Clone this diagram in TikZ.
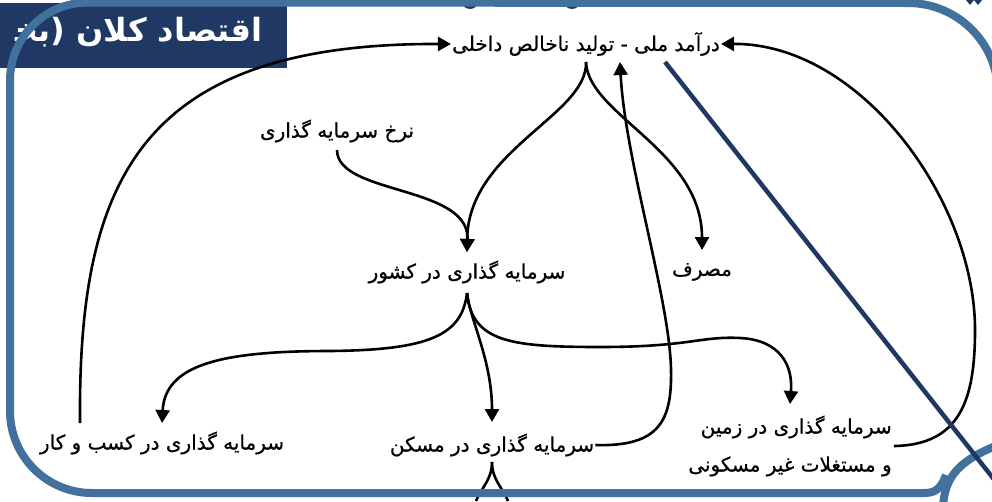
\documentclass[tikz,border=0pt]{standalone}
\usepackage{fontspec}
\TeXXeTstate=1
\newfontfamily\arabicfont[Script=Arabic]{DejaVu Sans}
\newfontfamily\arabicbold[Script=Arabic]{DejaVu Sans Bold}
\usetikzlibrary{arrows.meta}
\definecolor{frameblue}{RGB}{65,113,156}
\definecolor{navy}{RGB}{31,56,100}

\begin{document}
\begin{tikzpicture}[x=1pt,y=-1pt,
  lbl/.style={inner sep=0pt, align=right,
    font=\arabicfont\fontsize{20}{38}\selectfont\addfontfeature{FakeBold=0.7}},
  flow/.style={line width=2.6pt, -{Triangle[length=13pt,width=14pt]}},
  link/.style={line width=2.6pt},
  framestroke/.style={draw=frameblue, line width=8pt}]
\useasboundingbox (0,0) rectangle (992,501);

% title banner, cut at the left edge
\fill[navy] (0,3) rectangle (287,68);
\begin{scope}
  \clip (0,3) rectangle (287,68);
  \node[anchor=base east, inner sep=0pt, text=white,
        font=\arabicbold\fontsize{32}{36}\selectfont] (title) at (263,41)
        {\beginR اقتصاد کلان (بخ^^^^200d\endR};
\end{scope}

% labels
\node[lbl] (top)    at (586,44)  {\beginR درآمد ملی - تولید ناخالص داخلی\endR};
\node[lbl] (nerkh)  at (337,131) {\beginR نرخ سرمایه گذاری\endR};
\node[lbl] (keshvar) at (467,272) {\beginR سرمایه گذاری در کشور\endR};
\node[lbl] (masraf) at (702,272) {\beginR مصرف\endR};
\node[lbl] (kasb)   at (162,443) {\beginR سرمایه گذاری در کسب و کار\endR};
\node[lbl] (maskan) at (492,445) {\beginR سرمایه گذاری در مسکن\endR};
\node[lbl] (zamin)  at (790,446) {\beginR سرمایه گذاری در زمین\endR\\\beginR و مستغلات غیر مسکونی\endR};

% national income splits into investment and consumption
\draw[flow] ([yshift=-18pt]top.center) .. controls (588,115) and (468,150) .. ([yshift=20pt]keshvar.center);
\draw[flow] ([yshift=-18pt]top.center) .. controls (588,115) and (702,150) .. ([yshift=22pt]masraf.center);
\draw[flow] ([yshift=-19pt]nerkh.center) .. controls (337,195) and (470,185) .. ([yshift=20pt]keshvar.center);

% domestic investment splits three ways
\draw[flow] ([yshift=-21pt]keshvar.center) .. controls (462,335) and (430,350) .. (330,351)
            .. controls (220,351) and (165,365) .. ([yshift=20pt]kasb.center);
\draw[flow] ([yshift=-21pt]keshvar.center) .. controls (470,320) and (492,360) .. ([yshift=23pt]maskan.center);
\draw[flow] ([yshift=-21pt]keshvar.center) .. controls (472,342) and (510,347) .. (600,347)
            .. controls (690,347) and (700,336) .. (740,338)
            .. controls (780,340) and (793,365) .. ([yshift=42pt]zamin.center);

% feedback to national income
\draw[flow] ([xshift=-82pt,yshift=20pt]kasb.center) .. controls (78,180) and (140,43) .. ([xshift=-1pt]top.west);
\draw[flow] ([xshift=1pt]maskan.east) .. controls (660,447) and (672,420) .. (671,370)
            .. controls (670,300) and (625,160) .. (620,62);
\draw[flow] ([xshift=2pt]zamin.east) .. controls (960,445) and (975,400) .. (975,330)
            .. controls (975,200) and (860,43) .. ([xshift=1pt]top.east);

% split below housing investment
\draw[link] ([yshift=-17pt]maskan.center) .. controls (492,480) and (481,488) .. (476,501);
\draw[link] ([yshift=-17pt]maskan.center) .. controls (492,480) and (503,488) .. (508,501);

% small marks along the top edge
\fill[navy] (470,0) circle (9);
\fill[navy] (572,0) circle (9);
\fill[navy] (966,0) -- (970,5) -- (974,0) -- (978,5) -- (982,0) -- cycle;

% rounded frame
\draw[framestroke] (998,445) -- (998,93) arc (0:-90:90) -- (88,2.5) arc (270:180:78)
      -- (10,411) arc (180:90:82) -- (925,493) .. controls (938,493) and (942,485) .. (946,475);
\draw[framestroke] (943,506) .. controls (945,480) and (955,462) .. (998,445);

% diagonal stroke
\draw[navy, line width=4.5pt] (665,62) -- (1000,487);
\end{tikzpicture}
\end{document}
